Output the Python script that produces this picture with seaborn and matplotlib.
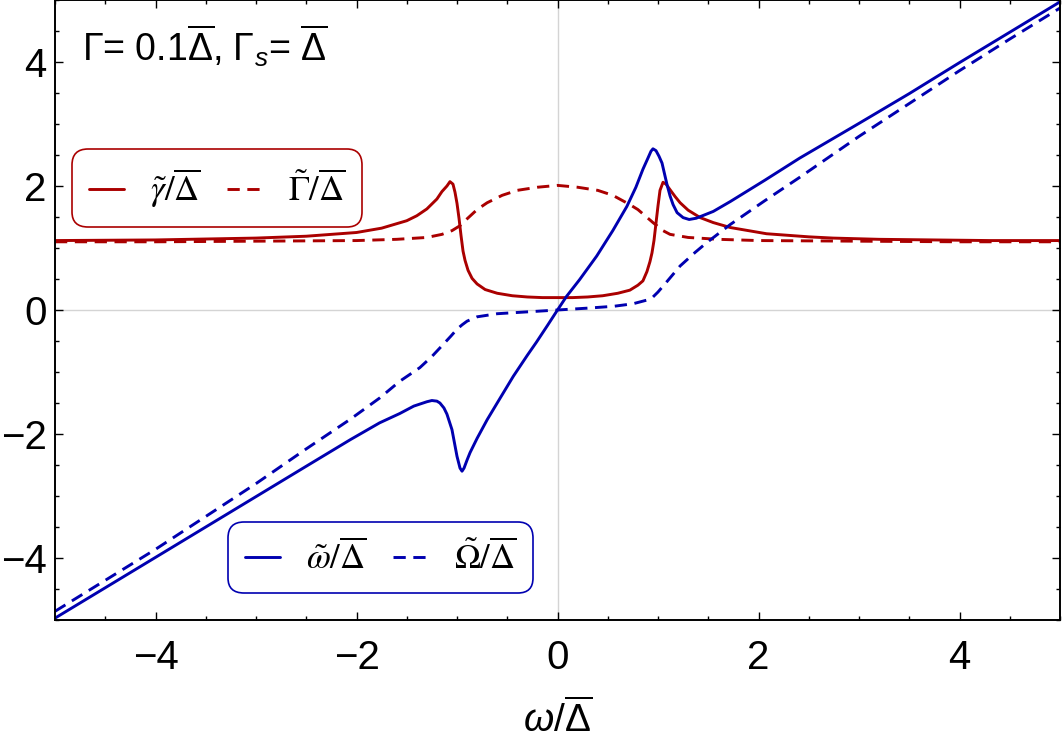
import numpy as np
import pandas as pd
import matplotlib
matplotlib.use("Agg")
import matplotlib.pyplot as plt
import seaborn as sns

# ---- data ----
x_gamma = [-5, -4, -3, -2.5, -2, -1.75, -1.5, -1.4, -1.3, -1.2, -1.15, -1.1, -1.07, -1.04,
           -1.02, -1.0, -0.98, -0.96, -0.94, -0.92, -0.89, -0.85, -0.8, -0.72, -0.6, -0.45,
           -0.3, -0.15, 0, 0.15, 0.3, 0.45, 0.6, 0.72, 0.8, 0.85, 0.89, 0.92, 0.94, 0.96,
           0.98, 1.0, 1.02, 1.05, 1.08, 1.12, 1.17, 1.22, 1.3, 1.42, 1.55, 1.72, 2.08, 2.5,
           2.74, 3.2, 3.74, 4.3, 5]
y_gamma = [1.12, 1.13, 1.16, 1.19, 1.25, 1.32, 1.44, 1.52, 1.63, 1.79, 1.91, 2.0, 2.07, 2.03,
           1.90, 1.72, 1.48, 1.20, 0.95, 0.80, 0.64, 0.51, 0.42, 0.33, 0.27, 0.23,
           0.21, 0.20, 0.20, 0.20, 0.21, 0.23, 0.27, 0.32, 0.40, 0.47, 0.62, 0.78, 0.92, 1.12,
           1.40, 1.68, 1.93, 2.06, 2.03, 1.94, 1.83, 1.73, 1.61, 1.49, 1.41, 1.33, 1.23, 1.18,
           1.16, 1.14, 1.13, 1.12, 1.12]

x_Gamma = [-5, -4, -3, -2, -1.6, -1.3, -1.15, -1.05, -0.97, -0.9, -0.8, -0.7, -0.55, -0.4,
           -0.2, 0, 0.2, 0.4, 0.55, 0.72, 0.8, 0.9, 0.95, 1.05, 1.12, 1.3, 1.6, 2, 3, 4, 5]
y_Gamma = [1.10, 1.10, 1.11, 1.12, 1.14, 1.17, 1.22, 1.28, 1.36, 1.47, 1.62, 1.73, 1.85, 1.93,
           1.98, 2.01, 1.98, 1.93, 1.85, 1.70, 1.62, 1.48, 1.41, 1.28, 1.22, 1.17, 1.14, 1.12,
           1.11, 1.10, 1.10]

x_omega = [-5, -4, -3, -2.5, -2.06, -1.77, -1.57, -1.43, -1.3, -1.25, -1.2, -1.17, -1.13,
           -1.1, -1.05, -1.0, -0.97, -0.95, -0.93, -0.9, -0.87, -0.8, -0.7, -0.6, -0.44,
           -0.3, -0.21, -0.1, 0, 0.09, 0.22, 0.39, 0.55, 0.69, 0.78, 0.85, 0.9, 0.93, 0.95,
           0.98, 1.01, 1.04, 1.09, 1.12, 1.15, 1.19, 1.25, 1.31, 1.38, 1.55, 1.72, 2.06,
           2.41, 3.0, 3.5, 4.0, 4.5, 5]
y_omega = [-4.97, -3.99, -3.01, -2.52, -2.09, -1.82, -1.67, -1.55, -1.48, -1.46, -1.47, -1.50,
           -1.58, -1.68, -1.93, -2.36, -2.55, -2.60, -2.55, -2.42, -2.30, -2.07, -1.77, -1.50,
           -1.07, -0.73, -0.52, -0.25, 0.0, 0.22, 0.49, 0.87, 1.28, 1.67, 1.98, 2.27, 2.45,
           2.56, 2.60, 2.57, 2.48, 2.37, 2.02, 1.84, 1.70, 1.57, 1.49, 1.46, 1.48, 1.59, 1.75,
           2.09, 2.45, 3.01, 3.49, 3.99, 4.48, 4.97]

x_Omega = [-5, -4, -3, -2.5, -2.06, -1.77, -1.57, -1.37, -1.25, -1.14, -1.06, -1.0, -0.95,
           -0.9, -0.8, -0.6, -0.3, 0, 0.3, 0.56, 0.75, 0.89, 0.95, 1.0, 1.09, 1.22, 1.37,
           1.48, 1.72, 2.06, 2.41, 3.0, 3.5, 4.0, 4.5, 5]
y_Omega = [-4.86, -3.86, -2.80, -2.24, -1.76, -1.42, -1.15, -0.93, -0.75, -0.56, -0.42,
           -0.31, -0.24, -0.18, -0.11, -0.06, -0.03, 0.0, 0.03, 0.06, 0.10, 0.16, 0.21, 0.29,
           0.46, 0.71, 0.93, 1.08, 1.38, 1.76, 2.14, 2.80, 3.33, 3.86, 4.37, 4.87]

label_gamma = r'$\tilde{\gamma}/\overline{\Delta}$'
label_Gamma = r'$\tilde{\Gamma}/\overline{\Delta}$'
label_omega = r'$\tilde{\omega}/\overline{\Delta}$'
label_Omega = r'$\tilde{\Omega}/\overline{\Delta}$'
x_ticks = [-4, -2, 0, 2, 4]
y_ticks = [-4, -2, 0, 2, 4]

RED = '#AA0000'
BLUE = '#0000B0'

sns.set_theme(style='ticks')
plt.rcParams['font.family'] = ['Liberation Sans', 'DejaVu Sans']
plt.rcParams['text.color'] = 'black'
plt.rcParams['axes.labelcolor'] = 'black'
plt.rcParams['xtick.color'] = 'black'
plt.rcParams['ytick.color'] = 'black'
plt.rcParams['mathtext.fontset'] = 'stix'
plt.rcParams['mathtext.rm'] = 'Liberation Sans'
plt.rcParams['mathtext.it'] = 'Liberation Sans:italic'

fig = plt.figure(figsize=(10.63, 7.42), dpi=100)
ax = fig.add_axes([55 / 1063, 1 - 620 / 742, (1060 - 55) / 1063, 620 / 742])

ax.axhline(0, color='#d4d4d4', lw=1.0, zorder=0)
ax.axvline(0, color='#d4d4d4', lw=1.0, zorder=0)

lw = 2.1
dash = (0, (4.2, 2.6))
sns.lineplot(x=x_gamma, y=y_gamma, ax=ax, color=RED, lw=lw)
h_gamma = ax.lines[-1]
sns.lineplot(x=x_Gamma, y=y_Gamma, ax=ax, color=RED, lw=lw, linestyle=dash)
h_Gamma = ax.lines[-1]
sns.lineplot(x=x_omega, y=y_omega, ax=ax, color=BLUE, lw=lw)
h_omega = ax.lines[-1]
sns.lineplot(x=x_Omega, y=y_Omega, ax=ax, color=BLUE, lw=lw, linestyle=dash)
h_Omega = ax.lines[-1]

ax.set_xlim(-5, 5)
ax.set_ylim(-5, 5)
ax.set_xticks(x_ticks)
ax.set_yticks(y_ticks)
ax.set_xticklabels([str(t).replace('-', '\u2212') for t in x_ticks])
ax.set_yticklabels([str(t).replace('-', '\u2212') for t in y_ticks])
ax.xaxis.set_minor_locator(matplotlib.ticker.MultipleLocator(0.5))
ax.yaxis.set_minor_locator(matplotlib.ticker.MultipleLocator(0.5))
ax.tick_params(which='both', direction='in', top=True, right=True, color='black',
               labelcolor='black', width=1.0)
ax.tick_params(which='major', length=6, labelsize=29)
ax.tick_params(which='minor', length=3)
ax.tick_params(axis='x', which='major', pad=14)
ax.tick_params(axis='y', which='major', pad=6)
for s in ax.spines.values():
    s.set_linewidth(1.4)
    s.set_color('black')

ax.set_xlabel(r'$\omega/\overline{\Delta}$', fontsize=28, labelpad=16, color='black')
ax.xaxis.label.set_math_fontfamily('custom')
ax.grid(False)

txt = ax.text(82 / 1063, 1 - 61 / 742, r'$\Gamma$= 0.1$\overline{\Delta}$, $\Gamma_s$= $\overline{\Delta}$',
              transform=fig.transFigure, fontsize=27, ha='left', va='baseline', color='black')
txt.set_math_fontfamily('custom')

common = dict(ncol=2, loc='upper left', bbox_transform=fig.transFigure, fontsize=25,
              frameon=True, fancybox=True, handlelength=1.0, handletextpad=0.75,
              columnspacing=0.75, borderpad=0.5, borderaxespad=0)

leg1 = ax.legend([h_gamma, h_Gamma], [label_gamma, label_Gamma],
                 bbox_to_anchor=(72 / 1063, 1 - 149 / 742), **common)
leg2 = ax.legend([h_omega, h_Omega], [label_omega, label_Omega],
                 bbox_to_anchor=(228 / 1063, 1 - 522 / 742), **common)
for leg, col in ((leg1, RED), (leg2, BLUE)):
    fr = leg.get_frame()
    fr.set_edgecolor(col)
    fr.set_linewidth(1.2)
    fr.set_alpha(1)
    fr.set_boxstyle('round', pad=0, rounding_size=0.45)
    for t in leg.get_texts():
        t.set_math_fontfamily('stix')
        t.set_color('black')
ax.add_artist(leg1)

fig.savefig('out.png', dpi=100)
